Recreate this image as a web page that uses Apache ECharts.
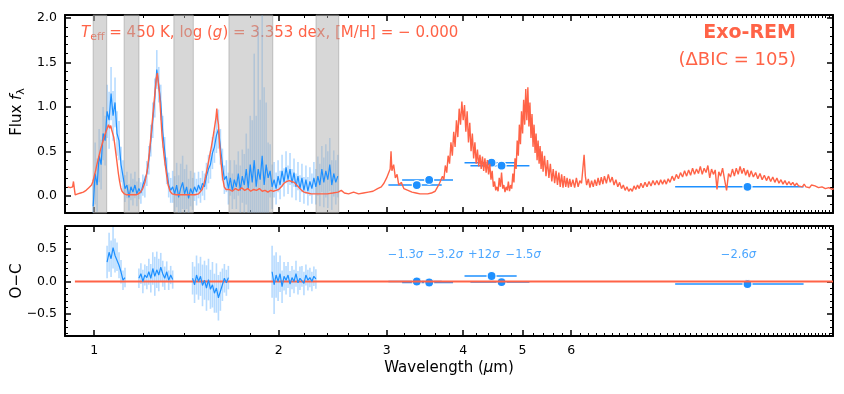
<!DOCTYPE html>
<html>
<head>
<meta charset="utf-8">
<script src="https://cdn.jsdelivr.net/npm/echarts@6/dist/echarts.min.js"></script>
<style>
html, body { margin: 0; padding: 0; background: #fff; }
#chart { width: 844px; height: 394px; }
</style>
</head>
<body>
<div id="chart"></div>
<script>
// ---- model spectrum (Exo-REM) ----
const modelWave = [
    0.905, 0.910, 0.914, 0.918, 0.922, 0.925, 0.928, 0.931, 0.935, 0.940,
    0.945, 0.950, 0.955, 0.960, 0.965, 0.970, 0.975, 0.980, 0.985, 0.990,
    0.995, 1.000, 1.005, 1.010, 1.015, 1.020, 1.025, 1.030, 1.035, 1.040,
    1.045, 1.050, 1.055, 1.060, 1.064, 1.068, 1.072, 1.076, 1.080, 1.085,
    1.090, 1.095, 1.100, 1.105, 1.110, 1.115, 1.120, 1.130, 1.140, 1.150,
    1.160, 1.170, 1.180, 1.190, 1.200, 1.210, 1.220, 1.230, 1.240, 1.250,
    1.257, 1.263, 1.268, 1.273, 1.278, 1.283, 1.290, 1.300, 1.310, 1.320,
    1.330, 1.340, 1.360, 1.380, 1.400, 1.420, 1.440, 1.460, 1.480, 1.490,
    1.500, 1.510, 1.520, 1.530, 1.540, 1.550, 1.560, 1.570, 1.580, 1.585,
    1.590, 1.595, 1.600, 1.610, 1.620, 1.630, 1.640, 1.660, 1.680, 1.700,
    1.720, 1.740, 1.760, 1.780, 1.800, 1.820, 1.840, 1.860, 1.880, 1.900,
    1.920, 1.940, 1.960, 1.980, 2.000, 2.020, 2.040, 2.060, 2.080, 2.100,
    2.120, 2.140, 2.160, 2.180, 2.200, 2.230, 2.260, 2.300, 2.350, 2.400,
    2.450, 2.500, 2.530, 2.560, 2.600, 2.650, 2.700, 2.750, 2.800, 2.850,
    2.900, 2.940, 2.970, 3.000, 3.020, 3.040, 3.050, 3.060, 3.080, 3.100,
    3.120, 3.140, 3.170, 3.200, 3.250, 3.300, 3.350, 3.400, 3.450, 3.500,
    3.55, 3.60, 3.62, 3.64, 3.66, 3.68, 3.70, 3.72, 3.74, 3.76,
    3.78, 3.80, 3.82, 3.84, 3.86, 3.88, 3.90, 3.92, 3.94, 3.96,
    3.98, 4.00, 4.02, 4.04, 4.06, 4.08, 4.10, 4.12, 4.14, 4.16,
    4.18, 4.20, 4.22, 4.24, 4.26, 4.28, 4.30, 4.32, 4.34, 4.36,
    4.38, 4.40, 4.42, 4.44, 4.46, 4.48, 4.50, 4.52, 4.54, 4.56,
    4.58, 4.60, 4.62, 4.64, 4.66, 4.68, 4.70, 4.72, 4.74, 4.76,
    4.78, 4.80, 4.82, 4.84, 4.86, 4.88, 4.90, 4.92, 4.94, 4.96,
    4.98, 5.00, 5.02, 5.04, 5.06, 5.08, 5.10, 5.12, 5.14, 5.16,
    5.18, 5.20, 5.22, 5.24, 5.26, 5.28, 5.30, 5.32, 5.34, 5.36,
    5.38, 5.40, 5.43, 5.46, 5.49, 5.52, 5.55, 5.58, 5.61, 5.64,
    5.67, 5.70, 5.73, 5.76, 5.79, 5.82, 5.85, 5.88, 5.91, 5.94,
    5.97, 6.00, 6.04, 6.08, 6.12, 6.16, 6.20, 6.24, 6.27, 6.30,
    6.33, 6.36, 6.40, 6.44, 6.48, 6.52, 6.56, 6.60, 6.64, 6.68,
    6.72, 6.76, 6.80, 6.85, 6.90, 6.95, 7.00, 7.05, 7.10, 7.15,
    7.20, 7.25, 7.30, 7.35, 7.40, 7.45, 7.50, 7.55, 7.60, 7.65,
    7.70, 7.75, 7.80, 7.86, 7.92, 7.98, 8.04, 8.10, 8.16, 8.22,
    8.28, 8.34, 8.40, 8.46, 8.52, 8.58, 8.64, 8.70, 8.77, 8.84,
    8.91, 8.98, 9.05, 9.12, 9.19, 9.26, 9.33, 9.40, 9.47, 9.54,
    9.61, 9.68, 9.75, 9.82, 9.89, 9.96, 10.03, 10.10, 10.17, 10.24,
    10.31, 10.38, 10.45, 10.52, 10.60, 10.68, 10.76, 10.84, 10.92, 11.00,
    11.08, 11.16, 11.24, 11.32, 11.40, 11.48, 11.56, 11.64, 11.72, 11.80,
    11.90, 12.00, 12.10, 12.20, 12.30, 12.40, 12.50, 12.60, 12.70, 12.80,
    12.90, 13.00, 13.10, 13.20, 13.30, 13.40, 13.50, 13.60, 13.70, 13.80,
    13.90, 14.00, 14.10, 14.20, 14.30, 14.40, 14.50, 14.60, 14.70, 14.80,
    14.90, 15.00, 15.20, 15.40, 15.60, 15.80, 16.00, 16.10
];
const modelFlux = [
    0.10, 0.12, 0.09, 0.11, 0.10, 0.16, 0.08, 0.01, 0.02, 0.02,
    0.03, 0.03, 0.04, 0.04, 0.05, 0.06, 0.07, 0.09, 0.10, 0.12,
    0.16, 0.22, 0.28, 0.35, 0.41, 0.47, 0.53, 0.58, 0.63, 0.68,
    0.72, 0.76, 0.80, 0.76, 0.79, 0.74, 0.72, 0.66, 0.58, 0.47,
    0.36, 0.25, 0.16, 0.09, 0.05, 0.03, 0.02, 0.01, 0.01, 0.01,
    0.01, 0.01, 0.02, 0.04, 0.08, 0.15, 0.28, 0.48, 0.74, 1.00,
    1.18, 1.33, 1.38, 1.25, 1.15, 0.95, 0.68, 0.45, 0.27, 0.12,
    0.05, 0.02, 0.01, 0.01, 0.01, 0.01, 0.01, 0.01, 0.02, 0.03,
    0.07, 0.13, 0.22, 0.32, 0.42, 0.52, 0.63, 0.75, 0.88, 0.98,
    0.86, 0.80, 0.62, 0.38, 0.20, 0.10, 0.07, 0.07, 0.05, 0.08,
    0.06, 0.09, 0.06, 0.08, 0.05, 0.07, 0.06, 0.08, 0.05, 0.06,
    0.04, 0.06, 0.05, 0.06, 0.07, 0.10, 0.14, 0.16, 0.17, 0.16,
    0.15, 0.12, 0.09, 0.06, 0.04, 0.03, 0.02, 0.02, 0.02, 0.02,
    0.03, 0.04, 0.06, 0.03, 0.02, 0.04, 0.02, 0.03, 0.04, 0.05,
    0.08, 0.10, 0.14, 0.20, 0.18, 0.30, 0.50, 0.28, 0.35, 0.20,
    0.24, 0.12, 0.15, 0.08, 0.06, 0.04, 0.03, 0.02, 0.02, 0.02,
    0.03, 0.05, 0.08, 0.07, 0.14, 0.12, 0.22, 0.18, 0.34, 0.26,
    0.45, 0.36, 0.60, 0.45, 0.72, 0.55, 0.85, 0.66, 0.98, 0.80,
    1.06, 0.85, 1.02, 0.72, 0.95, 0.60, 0.82, 0.50, 0.70, 0.42,
    0.60, 0.36, 0.52, 0.33, 0.46, 0.30, 0.44, 0.28, 0.42, 0.26,
    0.40, 0.24, 0.36, 0.18, 0.28, 0.10, 0.16, 0.06, 0.10, 0.05,
    0.20, 0.10, 0.26, 0.08, 0.12, 0.04, 0.10, 0.06, 0.16, 0.05,
    0.12, 0.08, 0.25, 0.15, 0.42, 0.30, 0.62, 0.45, 0.80, 0.58,
    0.95, 0.70, 1.08, 0.80, 1.20, 0.85, 1.22, 0.78, 1.05, 0.65,
    0.92, 0.55, 0.80, 0.48, 0.70, 0.40, 0.62, 0.36, 0.56, 0.30,
    0.50, 0.27, 0.45, 0.22, 0.40, 0.20, 0.36, 0.16, 0.30, 0.14,
    0.28, 0.12, 0.26, 0.10, 0.24, 0.09, 0.22, 0.10, 0.20, 0.09,
    0.19, 0.10, 0.18, 0.09, 0.20, 0.10, 0.17, 0.14, 0.30, 0.46,
    0.22, 0.12, 0.19, 0.09, 0.17, 0.10, 0.18, 0.11, 0.20, 0.12,
    0.21, 0.13, 0.22, 0.14, 0.24, 0.15, 0.21, 0.12, 0.18, 0.10,
    0.15, 0.08, 0.12, 0.06, 0.10, 0.05, 0.08, 0.05, 0.11, 0.07,
    0.12, 0.08, 0.14, 0.09, 0.15, 0.10, 0.16, 0.11, 0.17, 0.12,
    0.17, 0.12, 0.18, 0.13, 0.18, 0.13, 0.19, 0.15, 0.22, 0.17,
    0.24, 0.19, 0.26, 0.21, 0.28, 0.22, 0.29, 0.23, 0.31, 0.24,
    0.30, 0.25, 0.33, 0.24, 0.31, 0.26, 0.34, 0.20, 0.30, 0.24,
    0.29, 0.07, 0.27, 0.22, 0.31, 0.18, 0.06, 0.25, 0.21, 0.30,
    0.22, 0.31, 0.24, 0.33, 0.25, 0.31, 0.23, 0.29, 0.21, 0.28,
    0.21, 0.26, 0.19, 0.25, 0.18, 0.23, 0.17, 0.22, 0.16, 0.21,
    0.15, 0.20, 0.14, 0.18, 0.13, 0.17, 0.12, 0.16, 0.12, 0.15,
    0.11, 0.14, 0.11, 0.13, 0.10, 0.13, 0.10, 0.12, 0.09, 0.12,
    0.10, 0.11, 0.09, 0.10, 0.08, 0.09, 0.07, 0.08
];

// ---- observed spectrum ----
const dataWave = [
    0.9960, 1.0035, 1.0110, 1.0186, 1.0262, 1.0339, 1.0417, 1.0495, 1.0574, 1.0653,
    1.0733, 1.0813, 1.0894, 1.0976, 1.1058, 1.1141, 1.1225, 1.1309, 1.1394, 1.1479,
    1.1565, 1.1652, 1.1739, 1.1827, 1.1916, 1.2005, 1.2095, 1.2186, 1.2277, 1.2369,
    1.2462, 1.2555, 1.2649, 1.2744, 1.2840, 1.2936, 1.3033, 1.3131, 1.3229, 1.3328,
    1.3428, 1.3529, 1.3630, 1.3732, 1.3835, 1.3939, 1.4044, 1.4149, 1.4255, 1.4362,
    1.4470, 1.4578, 1.4687, 1.4797, 1.4908, 1.5020, 1.5133, 1.5246, 1.5361, 1.5476,
    1.5592, 1.5709, 1.5827, 1.5946, 1.6065, 1.6186, 1.6307, 1.6430, 1.6553, 1.6677,
    1.6802, 1.6928, 1.7055, 1.7183, 1.7312, 1.7442, 1.7573, 1.7704, 1.7837, 1.7971,
    1.8106, 1.8242, 1.8378, 1.8516, 1.8655, 1.8795, 1.8936, 1.9078, 1.9221, 1.9365,
    1.9510, 1.9657, 1.9804, 1.9953, 2.0102, 2.0253, 2.0405, 2.0558, 2.0712, 2.0868,
    2.1024, 2.1182, 2.1341, 2.1501, 2.1662, 2.1824, 2.1988, 2.2153, 2.2319, 2.2487,
    2.2655, 2.2825, 2.2996, 2.3169, 2.3343, 2.3518, 2.3694, 2.3872, 2.4051, 2.4231,
    2.4413, 2.4596, 2.4781, 2.4967
];
const dataFlux = [
    -0.12, 0.25, 0.12, 0.45, 0.35, 0.70, 0.62, 0.95, 0.85, 1.15,
    0.90, 1.05, 0.70, 0.62, 0.35, 0.22, 0.08, 0.12, -0.02, 0.10,
    0.04, 0.12, 0.02, 0.08, 0.03, 0.12, 0.10, 0.25, 0.40, 0.62,
    0.85, 1.10, 1.42, 1.25, 1.05, 0.72, 0.50, 0.28, 0.12, 0.06,
    0.10, 0.02, 0.12, -0.02, 0.08, 0.15, 0.02, 0.10, -0.03, 0.08,
    0.02, 0.10, 0.04, 0.12, 0.06, 0.14, 0.10, 0.22, 0.30, 0.35,
    0.48, 0.55, 0.68, 0.75, 0.55, 0.35, 0.18, 0.22, 0.08, 0.20,
    0.05, 0.18, 0.10, 0.25, 0.06, 0.22, 0.12, 0.30, 0.08, 0.35,
    0.15, 0.40, 0.10, 0.30, 0.18, 0.45, 0.12, 0.35, 0.20, 0.28,
    0.10, 0.18, 0.08, 0.22, 0.12, 0.28, 0.15, 0.32, 0.18, 0.30,
    0.14, 0.26, 0.10, 0.22, 0.08, 0.20, 0.06, 0.18, 0.05, 0.16,
    0.08, 0.20, 0.10, 0.22, 0.12, 0.30, 0.15, 0.28, 0.18, 0.35,
    0.12, 0.25, 0.15, 0.22
];
const dataErr = [
    0.30, 0.35, 0.30, 0.30, 0.28, 0.30, 0.28, 0.30, 0.32, 0.30,
    0.28, 0.28, 0.25, 0.22, 0.20, 0.18, 0.15, 0.15, 0.15, 0.15,
    0.15, 0.15, 0.14, 0.12, 0.12, 0.12, 0.12, 0.14, 0.16, 0.18,
    0.20, 0.22, 0.22, 0.20, 0.20, 0.18, 0.16, 0.15, 0.14, 0.14,
    0.18, 0.20, 0.25, 0.25, 0.28, 0.30, 0.28, 0.25, 0.22, 0.20,
    0.18, 0.16, 0.15, 0.15, 0.14, 0.14, 0.15, 0.15, 0.16, 0.16,
    0.18, 0.18, 0.20, 0.22, 0.20, 0.18, 0.16, 0.18, 0.18, 0.20,
    0.20, 0.22, 0.25, 0.25, 0.28, 0.30, 0.35, 0.40, 0.45, 0.55,
    0.70, 1.20, 0.80, 1.60, 0.90, 1.70, 1.10, 0.70, 0.40, 0.30,
    0.25, 0.20, 0.18, 0.18, 0.16, 0.18, 0.16, 0.18, 0.16, 0.18,
    0.16, 0.16, 0.15, 0.16, 0.15, 0.16, 0.15, 0.16, 0.16, 0.16,
    0.17, 0.18, 0.20, 0.22, 0.24, 0.26, 0.28, 0.30, 0.32, 0.30,
    0.28, 0.26, 0.25, 0.24
];

// ---- residuals of the spectrum (null = gap between chunks) ----
const resWave = [
    1.0495, 1.0574, 1.0653, 1.0733, 1.0813, 1.0894, 1.0976, 1.1058, 1.1141, 1.1225,
    1.15,
    1.1827, 1.1916, 1.2005, 1.2095, 1.2186, 1.2277, 1.2369, 1.2462, 1.2555, 1.2649,
    1.2744, 1.2840, 1.2936, 1.3033, 1.3131, 1.3229, 1.3328, 1.3428,
    1.40,
    1.4470, 1.4578, 1.4687, 1.4797, 1.4908, 1.5020, 1.5133, 1.5246, 1.5361, 1.5476,
    1.5592, 1.5709, 1.5827, 1.5946, 1.6065, 1.6186, 1.6307, 1.6430, 1.6553,
    1.80,
    1.9510, 1.9657, 1.9804, 1.9953, 2.0102, 2.0253, 2.0405, 2.0558, 2.0712, 2.0868,
    2.1024, 2.1182, 2.1341, 2.1501, 2.1662, 2.1824, 2.1988, 2.2153, 2.2319, 2.2487,
    2.2655, 2.2825, 2.2996
];
const resVal = [
    0.30, 0.45, 0.35, 0.52, 0.40, 0.38, 0.25, 0.15, 0.02, 0.06,
    null,
    0.05, 0.12, 0.00, 0.10, 0.06, 0.15, 0.05, 0.20, 0.08, 0.18,
    0.10, 0.22, 0.12, 0.05, 0.15, 0.02, 0.10, 0.03,
    null,
    0.05, -0.05, 0.10, 0.00, 0.08, -0.06, 0.02, -0.10, 0.03, -0.12,
    -0.05, -0.18, -0.10, -0.25, -0.15, -0.05, 0.05, -0.02, 0.06,
    null,
    0.15, -0.05, 0.10, 0.00, 0.12, -0.08, 0.08, 0.02, 0.10, -0.04,
    0.06, 0.00, 0.12, -0.02, 0.05, 0.08, -0.03, 0.10, 0.02, 0.06,
    0.00, 0.08, 0.04
];
const resErr = [
    0.25, 0.30, 0.28, 0.32, 0.26, 0.22, 0.20, 0.18, 0.15, 0.15,
    null,
    0.15, 0.16, 0.18, 0.16, 0.18, 0.20, 0.22, 0.25, 0.30, 0.28,
    0.25, 0.22, 0.20, 0.18, 0.16, 0.15, 0.14, 0.14,
    null,
    0.25, 0.28, 0.30, 0.28, 0.30, 0.32, 0.30, 0.35, 0.32, 0.30,
    0.35, 0.30, 0.38, 0.35, 0.30, 0.25, 0.22, 0.20, 0.18,
    null,
    0.40, 0.45, 0.35, 0.30, 0.28, 0.25, 0.22, 0.22, 0.20, 0.20,
    0.18, 0.18, 0.20, 0.18, 0.18, 0.16, 0.18, 0.16, 0.16, 0.15,
    0.15, 0.15, 0.15
];

// ---- photometry ----
const photWave = [3.36, 3.52, 4.45, 4.62, 11.64];
const photLo = [3.02, 3.18, 4.02, 4.11, 8.87];
const photHi = [3.69, 3.85, 4.89, 5.13, 14.37];
const photFlux = [0.12, 0.177, 0.372, 0.338, 0.10];
const photRes = [0.0, -0.015, 0.085, -0.008, -0.04];
const sigmaText = ['\u22121.3', '\u22123.2', '+12', '\u22121.5', '\u22122.6'];
const sigmaWave = [3.22, 3.74, 4.32, 5.01, 11.25];
const sigmaY = 0.41;

// ---- telluric bands ----
const bandLo = [0.996, 1.119, 1.349, 1.659, 2.301];
const bandHi = [1.048, 1.183, 1.451, 1.956, 2.506];

const zeroWave = [0.93, 16.05];

// ---- ticks ----
const xMin = 0.896, xMax = 16.05;
const xMajor = [1, 2, 3, 4, 5, 6];
const xMinor = [1.2, 1.4, 1.6, 1.8, 2.2, 2.4, 2.6, 2.8, 3.2, 3.4, 3.6, 3.8,
    4.2, 4.4, 4.6, 4.8, 5.2, 5.4, 5.6, 5.8, 6.2, 6.4, 6.6, 6.8, 7, 7.2, 7.4,
    7.6, 7.8, 8, 8.2, 8.4, 8.6, 8.8, 9, 9.2, 9.4, 9.6, 9.8, 10, 10.2, 10.4,
    10.6, 10.8, 11, 11.2, 11.4, 11.6, 11.8, 12, 12.2, 12.4, 12.6, 12.8, 13,
    13.2, 13.4, 13.6, 13.8, 14, 14.2, 14.4, 14.6, 14.8, 15, 15.2, 15.4, 15.6,
    15.8, 16];
const yTopMajor = [0, 0.5, 1, 1.5, 2];
const yTopMinor = [-0.1, 0.1, 0.2, 0.3, 0.4, 0.6, 0.7, 0.8, 0.9, 1.1, 1.2,
    1.3, 1.4, 1.6, 1.7, 1.8, 1.9];
const yBotMajor = [-0.5, 0, 0.5];
const yBotMinor = [-0.8, -0.7, -0.6, -0.4, -0.3, -0.2, -0.1, 0.1, 0.2, 0.3,
    0.4, 0.6, 0.7, 0.8];

const FONT = "DejaVu Sans";
const RED = "#FF6347";
const BLUE = "#1E90FF";
const LIGHT = "rgba(30,144,255,0.32)";

if (modelWave.length !== modelFlux.length || dataWave.length !== dataFlux.length ||
    dataWave.length !== dataErr.length || resWave.length !== resVal.length ||
    resWave.length !== resErr.length) {
    console.error("array length mismatch", modelWave.length, modelFlux.length,
        dataWave.length, dataFlux.length, dataErr.length, resWave.length, resVal.length, resErr.length);
}

function tickFmt(v) {
    const s = Math.abs(v).toFixed(1);
    return v < -1e-9 ? "\u2212" + s : s;
}

function xAxes(grid, showLabels) {
    const base = {
        type: "log", logBase: 10, min: xMin, max: xMax, gridIndex: grid,
        splitLine: { show: false }, axisPointer: { show: false }
    };
    const axes = [];
    ["bottom", "top"].forEach(pos => {
        axes.push(Object.assign({}, base, {
            position: pos,
            axisLine: { show: true, onZero: false, lineStyle: { color: "#000", width: 2 } },
            axisTick: { show: true, inside: true, length: 6, customValues: xMajor,
                lineStyle: { color: "#000", width: 1.5 } },
            axisLabel: { show: showLabels && pos === "bottom", customValues: xMajor,
                margin: 8, color: "#000", fontFamily: FONT, fontSize: 12.5,
                formatter: v => String(Math.round(v)) }
        }));
        axes.push(Object.assign({}, base, {
            position: pos,
            axisLine: { show: false, onZero: false },
            axisTick: { show: true, inside: true, length: 3, customValues: xMinor,
                lineStyle: { color: "#000", width: 1 } },
            axisLabel: { show: false }
        }));
    });
    return axes;
}

function yAxes(grid, min, max, major, minor) {
    const base = {
        type: "value", min: min, max: max, gridIndex: grid,
        splitLine: { show: false }, axisPointer: { show: false }
    };
    const axes = [];
    ["left", "right"].forEach(pos => {
        axes.push(Object.assign({}, base, {
            position: pos,
            axisLine: { show: true, onZero: false, lineStyle: { color: "#000", width: 2 } },
            axisTick: { show: true, inside: true, length: 6, customValues: major,
                lineStyle: { color: "#000", width: 1.5 } },
            axisLabel: { show: pos === "left", customValues: major, margin: 8,
                color: "#000", fontFamily: FONT, fontSize: 12.5, formatter: tickFmt }
        }));
        axes.push(Object.assign({}, base, {
            position: pos,
            axisLine: { show: false, onZero: false },
            axisTick: { show: true, inside: true, length: 3, customValues: minor,
                lineStyle: { color: "#000", width: 1 } },
            axisLabel: { show: false }
        }));
    });
    return axes;
}

function vErrors(xi, yi, wave, val, err, color, width) {
    const rows = [];
    wave.forEach((w, i) => {
        if (val[i] !== null) rows.push([w, val[i] - err[i], val[i] + err[i]]);
    });
    return {
        type: "custom", xAxisIndex: xi, yAxisIndex: yi, clip: true, silent: true,
        data: rows, encode: { x: 0, y: [1, 2] },
        renderItem: (params, api) => {
            const a = api.coord([api.value(0), api.value(1)]);
            const b = api.coord([api.value(0), api.value(2)]);
            return { type: "line", shape: { x1: a[0], y1: a[1], x2: b[0], y2: b[1] },
                style: { stroke: color, lineWidth: width } };
        }
    };
}

function hErrors(xi, yi, yvals) {
    return {
        type: "custom", xAxisIndex: xi, yAxisIndex: yi, clip: true, silent: true,
        data: photLo.map((lo, i) => [lo, photHi[i], yvals[i]]),
        encode: { x: [0, 1], y: 2 },
        renderItem: (params, api) => {
            const a = api.coord([api.value(0), api.value(2)]);
            const b = api.coord([api.value(1), api.value(2)]);
            return { type: "line", shape: { x1: a[0], y1: a[1], x2: b[0], y2: b[1] },
                style: { stroke: BLUE, lineWidth: 1.5 } };
        }
    };
}

function photPoints(xi, yi, yvals) {
    return {
        type: "scatter", xAxisIndex: xi, yAxisIndex: yi, silent: true,
        symbol: "circle", symbolSize: 9,
        itemStyle: { color: BLUE, borderColor: "#fff", borderWidth: 1.2, opacity: 1 },
        data: photWave.map((w, i) => [w, yvals[i]])
    };
}

const chart = echarts.init(document.getElementById("chart"));
chart.setOption({
    animation: false,
    backgroundColor: "#fff",
    textStyle: { fontFamily: FONT },
    grid: [
        { left: 65, right: 11, top: 15, height: 198 },
        { left: 65, right: 11, top: 226, height: 110 }
    ],
    xAxis: xAxes(0, false).concat(xAxes(1, true)),
    yAxis: yAxes(0, -0.195, 2.035, yTopMajor, yTopMinor)
        .concat(yAxes(1, -0.838, 0.854, yBotMajor, yBotMinor)),
    series: [
        // top panel
        vErrors(0, 0, dataWave, dataFlux, dataErr, LIGHT, 1.6),
        {
            type: "line", xAxisIndex: 0, yAxisIndex: 0, silent: true,
            showSymbol: false, symbol: "none",
            lineStyle: { color: BLUE, width: 1.2 },
            data: dataWave.map((w, i) => [w, dataFlux[i]])
        },
        {
            type: "custom", xAxisIndex: 0, yAxisIndex: 0, silent: true,
            data: bandLo.map((lo, i) => [lo, bandHi[i], 0]),
            encode: { x: [0, 1], y: 2 },
            renderItem: (params, api) => {
                const a = api.coord([api.value(0), 0]);
                const b = api.coord([api.value(1), 0]);
                const cs = params.coordSys;
                return { type: "rect",
                    shape: { x: a[0], y: cs.y, width: b[0] - a[0], height: cs.height },
                    style: { fill: "rgba(175,175,175,0.5)", stroke: "rgba(150,150,150,0.5)", lineWidth: 1 } };
            }
        },
        {
            type: "line", xAxisIndex: 0, yAxisIndex: 0, silent: true,
            showSymbol: false, symbol: "none",
            lineStyle: { color: RED, width: 1.4 },
            data: modelWave.map((w, i) => [w, modelFlux[i]])
        },
        hErrors(0, 0, photFlux),
        photPoints(0, 0, photFlux),
        // residual panel
        {
            type: "line", xAxisIndex: 4, yAxisIndex: 4, silent: true,
            showSymbol: false, symbol: "none",
            lineStyle: { color: RED, width: 2 },
            data: zeroWave.map(w => [w, 0])
        },
        vErrors(4, 4, resWave, resVal, resErr, LIGHT, 1.6),
        {
            type: "line", xAxisIndex: 4, yAxisIndex: 4, silent: true,
            showSymbol: false, symbol: "none", connectNulls: false,
            lineStyle: { color: BLUE, width: 1.2 },
            data: resWave.map((w, i) => [w, resVal[i] === null ? "-" : resVal[i]])
        },
        hErrors(4, 4, photRes),
        photPoints(4, 4, photRes),
        {
            type: "scatter", xAxisIndex: 4, yAxisIndex: 4, silent: true,
            symbolSize: 0,
            data: sigmaWave.map(w => [w, sigmaY]),
            label: {
                show: true, position: "inside",
                formatter: p => "{n|" + sigmaText[p.dataIndex] + "}{s|\u03c3}",
                rich: {
                    n: { color: BLUE, fontFamily: FONT, fontSize: 11.5 },
                    s: { color: BLUE, fontFamily: FONT, fontSize: 11.5, fontStyle: "italic" }
                }
            }
        }
    ],
    graphic: [
        {
            type: "text", x: 81, y: 33, silent: true,
            style: {
                text: "{i|T}{s|eff}{n| = 450 K, log (}{i|g}{n|) = 3.353 dex, [M/H] = \u2212 0.000}",
                verticalAlign: "middle",
                rich: {
                    n: { fill: RED, fontFamily: FONT, fontSize: 15, lineHeight: 20 },
                    i: { fill: RED, fontFamily: FONT, fontSize: 15, fontStyle: "italic", lineHeight: 20 },
                    s: { fill: RED, fontFamily: FONT, fontSize: 11, lineHeight: 20, verticalAlign: "bottom" }
                }
            }
        },
        {
            type: "text", x: 796, y: 33, silent: true,
            style: { text: "Exo-REM", fill: RED, font: "bold 19px " + FONT,
                align: "right", verticalAlign: "middle" }
        },
        {
            type: "text", x: 796, y: 60, silent: true,
            style: { text: "(\u0394BIC = 105)", fill: RED, font: "18px " + FONT,
                align: "right", verticalAlign: "middle" }
        },
        {
            type: "text", x: 17, y: 112, rotation: Math.PI / 2, silent: true,
            style: {
                text: "{n|Flux }{i|f}{s|\u03bb}", align: "center", verticalAlign: "middle",
                rich: {
                    n: { fill: "#000", fontFamily: FONT, fontSize: 15, lineHeight: 20 },
                    i: { fill: "#000", fontFamily: FONT, fontSize: 15, fontStyle: "italic", lineHeight: 20 },
                    s: { fill: "#000", fontFamily: FONT, fontSize: 11, lineHeight: 20, verticalAlign: "bottom" }
                }
            }
        },
        {
            type: "text", x: 17, y: 281, rotation: Math.PI / 2, silent: true,
            style: { text: "O\u2212C", fill: "#000", font: "15px " + FONT,
                align: "center", verticalAlign: "middle" }
        },
        {
            type: "text", x: 449, y: 368, silent: true,
            style: {
                text: "{n|Wavelength (}{i|\u03bc}{n|m)}", align: "center", verticalAlign: "middle",
                rich: {
                    n: { fill: "#000", fontFamily: FONT, fontSize: 15 },
                    i: { fill: "#000", fontFamily: FONT, fontSize: 15, fontStyle: "italic" }
                }
            }
        }
    ]
});
</script>
</body>
</html>
